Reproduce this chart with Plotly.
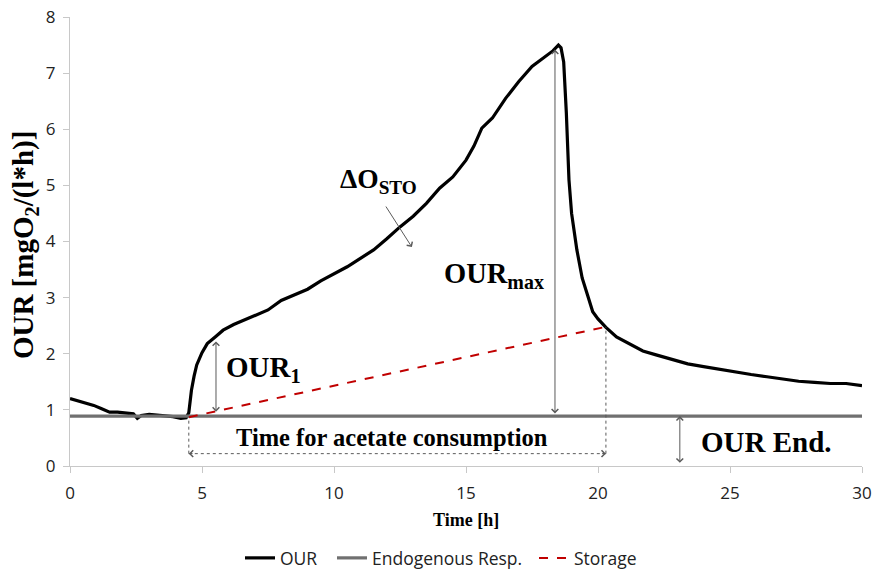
import plotly.graph_objects as go

# ---- data ----
time_h = [0, 0.3, 0.6, 0.9, 1.2, 1.5, 1.8, 2.1, 2.4, 2.55, 2.7, 3.0, 3.3, 3.6, 3.9, 4.2, 4.4, 4.5,
          4.6, 4.7, 4.8, 5.0, 5.2, 5.5, 5.8, 6.2, 6.6, 7.0, 7.5, 8.0, 8.5, 9.0, 9.5, 10.0, 10.5,
          11.0, 11.5, 12.0, 12.5, 13.0, 13.5, 14.0, 14.5, 15.0, 15.3, 15.6, 16.0, 16.5, 17.0, 17.5,
          18.0, 18.3, 18.5, 18.6, 18.7, 18.8, 18.9, 19.0, 19.2, 19.4, 19.6, 19.8, 20.0, 20.3, 20.7,
          21.2, 21.7, 22.2, 22.8, 23.4, 24.0, 24.6, 25.2, 25.8, 26.4, 27.0, 27.6, 28.2, 28.8, 29.4, 30.0]
our = [1.20, 1.16, 1.12, 1.08, 1.02, 0.96, 0.96, 0.95, 0.93, 0.85, 0.90, 0.92, 0.91, 0.90, 0.88, 0.85, 0.86, 0.95,
       1.35, 1.60, 1.80, 2.02, 2.18, 2.30, 2.42, 2.52, 2.60, 2.68, 2.78, 2.95, 3.05, 3.15, 3.30, 3.42, 3.55,
       3.70, 3.85, 4.05, 4.26, 4.45, 4.68, 4.95, 5.15, 5.45, 5.70, 6.02, 6.20, 6.55, 6.85, 7.12,
       7.30, 7.40, 7.50, 7.45, 7.20, 6.30, 5.10, 4.50, 3.85, 3.35, 3.05, 2.75, 2.62, 2.47, 2.30,
       2.17, 2.05, 1.98, 1.90, 1.82, 1.77, 1.72, 1.67, 1.63, 1.59, 1.55, 1.51, 1.49, 1.47, 1.47, 1.43]

endo_x = [0, 30]
endo_y = [0.89, 0.89]

storage_x = [4.5, 20.3]
storage_y = [0.87, 2.48]

x_ticks = [0, 5, 10, 15, 20, 25, 30]
y_ticks = [0, 1, 2, 3, 4, 5, 6, 7, 8]

# annotation anchor values
our1_x, our1_top = 5.53, 2.22
ourmax_x, ourmax_top = 18.37, 7.42
ourend_x = 23.1
time_arrow_y = 0.22
dsto_tail = (11.93, 4.65)
dsto_head = (12.95, 3.90)

SERIF = "Liberation Serif"
SANS = "Open Sans"
ARROW = "#5a5a5a"
W, H = 872, 569

fig = go.Figure()
fig.add_trace(go.Scatter(x=time_h, y=our, mode="lines", name="OUR", legend="legend",
                         line=dict(color="black", width=3.2)))
fig.add_trace(go.Scatter(x=endo_x, y=endo_y, mode="lines", name="Endogenous Resp.", legend="legend2",
                         line=dict(color="#707070", width=3.2)))
fig.add_trace(go.Scatter(x=storage_x, y=storage_y, mode="lines", name="Storage", legend="legend3",
                         line=dict(color="#c00000", width=2, dash="dash")))

ann = []


def dbl_arrow(x0, y0, x1, y1):
    ann.append(dict(x=x1, y=y1, ax=x0, ay=y0, xref="x", yref="y", axref="x", ayref="y",
                    showarrow=True, arrowhead=4, startarrowhead=4, arrowside="end+start",
                    arrowsize=1.3, startarrowsize=1.3, arrowwidth=1, arrowcolor=ARROW, text=""))


def arrow(x0, y0, x1, y1):
    ann.append(dict(x=x1, y=y1, ax=x0, ay=y0, xref="x", yref="y", axref="x", ayref="y",
                    showarrow=True, arrowhead=4, arrowsize=1.3, arrowwidth=1,
                    arrowcolor=ARROW, text=""))


dbl_arrow(our1_x, endo_y[0] + 0.05, our1_x, our1_top)
dbl_arrow(ourmax_x, endo_y[0] + 0.02, ourmax_x, ourmax_top)
dbl_arrow(ourend_x, 0.03, ourend_x, endo_y[0])
arrow(dsto_tail[0], dsto_tail[1], dsto_head[0], dsto_head[1])
arrow(storage_x[0] + 0.2, time_arrow_y, storage_x[0], time_arrow_y)
arrow(storage_x[1] - 0.2, time_arrow_y, storage_x[1], time_arrow_y)

shapes = [
    dict(type="line", xref="x", yref="y", x0=storage_x[0], x1=storage_x[1],
         y0=time_arrow_y, y1=time_arrow_y, line=dict(color=ARROW, width=1, dash="dot")),
    dict(type="line", xref="x", yref="y", x0=storage_x[0], x1=storage_x[0],
         y0=time_arrow_y, y1=storage_y[0], line=dict(color=ARROW, width=1, dash="dot")),
    dict(type="line", xref="x", yref="y", x0=storage_x[1], x1=storage_x[1],
         y0=time_arrow_y, y1=storage_y[1], line=dict(color=ARROW, width=1, dash="dot")),
]

lab = dict(family=SERIF, size=29, color="black")
ann += [
    dict(x=5.85, y=1.72, xref="x", yref="y", text="<b>OUR<sub>1</sub></b>", showarrow=False,
         xanchor="left", yanchor="middle", font=lab),
    dict(x=10.15, y=5.08, xref="x", yref="y", text="<b>ΔO<sub>STO</sub></b>", showarrow=False,
         xanchor="left", yanchor="middle", font=dict(family=SERIF, size=27.5, color="black")),
    dict(x=14.1, y=3.4, xref="x", yref="y", text="<b>OUR<sub>max</sub></b>", showarrow=False,
         xanchor="left", yanchor="middle", font=dict(family=SERIF, size=28.5, color="black")),
    dict(x=12.2, y=0.5, xref="x", yref="y", text="<b>Time for acetate consumption</b>",
         showarrow=False, xanchor="center", yanchor="middle",
         font=dict(family=SERIF, size=24.5, color="black")),
    dict(x=26.4, y=0.43, xref="x", yref="y", text="<b>OUR End.</b>", showarrow=False,
         xanchor="center", yanchor="middle", font=lab),
    dict(x=-45 / 792, y=0.492, xref="paper", yref="paper", textangle=-90,
         text="<b>OUR [mgO<sub>2</sub>/(l*h)]</b>", showarrow=False,
         xanchor="center", yanchor="middle", font=dict(family=SERIF, size=29, color="black")),
    dict(x=0.5, y=-54 / 449, xref="paper", yref="paper", text="<b>Time [h]</b>",
         showarrow=False, xanchor="center", yanchor="middle",
         font=dict(family=SERIF, size=18, color="black")),
]


def leg(left_px):
    return dict(orientation="h", xref="container", yref="container",
                x=left_px / W, y=11 / H, xanchor="left", yanchor="middle",
                font=dict(family=SANS, size=17.5, color="#222"), itemwidth=30,
                borderwidth=0, bgcolor="rgba(0,0,0,0)")


fig.update_layout(
    width=W, height=H,
    margin=dict(l=70, r=10, t=17, b=103),
    plot_bgcolor="white", paper_bgcolor="white",
    showlegend=True,
    legend=leg(240), legend2=leg(332), legend3=leg(534),
    annotations=ann, shapes=shapes,
)
fig.update_xaxes(range=[0, 30], tickvals=x_ticks, showgrid=False, zeroline=False,
                 showline=True, linecolor="#c8c8c8", linewidth=1, automargin=False,
                 ticks="outside", ticklen=6, tickcolor="#c8c8c8", ticklabelstandoff=6,
                 ticklabeloverflow="allow",
                 tickfont=dict(family=SANS, size=17, color="#222"))
fig.update_yaxes(range=[0, 8], tickvals=y_ticks, showgrid=False, zeroline=False,
                 showline=True, linecolor="#c8c8c8", linewidth=1, automargin=False,
                 ticks="outside", ticklen=6, tickcolor="#c8c8c8", ticklabelstandoff=4,
                 ticklabeloverflow="allow",
                 tickfont=dict(family=SANS, size=17, color="#222"))

# remove the default 8px page margin so the figure sits exactly in the window
fig.write_html("out.html", config={"displayModeBar": False},
               post_script="document.body.style.margin='0';")
